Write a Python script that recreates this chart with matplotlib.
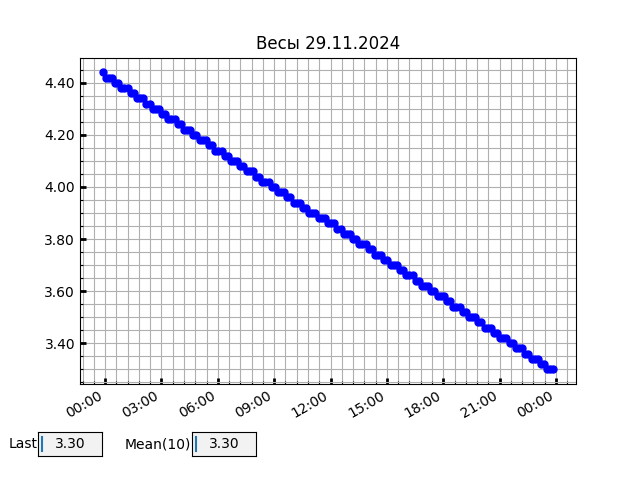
# plot.py
# Scale log for one day, with the two readout boxes under the chart.

import matplotlib
matplotlib.use('Agg')
import matplotlib.pyplot as plt
import matplotlib.dates as mdates
from matplotlib.ticker import MultipleLocator, AutoMinorLocator, FormatStrFormatter
from matplotlib.widgets import TextBox
import pandas as pd

title = 'Весы 29.11.2024'
start_time = '2024-11-28 23:52'
step_minutes = 10

# readings, one every 10 minutes
weights = [
    4.44,
    4.42, 4.42, 4.42, 4.40, 4.40,
    4.38, 4.38, 4.38, 4.36, 4.36,
    4.34, 4.34, 4.34, 4.32, 4.32,
    4.30, 4.30, 4.30, 4.28, 4.28,
    4.26, 4.26, 4.26, 4.24, 4.24,
    4.22, 4.22, 4.22, 4.20, 4.20,
    4.18, 4.18, 4.18, 4.16, 4.16,
    4.14, 4.14, 4.14, 4.12, 4.12,
    4.10, 4.10, 4.10, 4.08, 4.08,
    4.06, 4.06, 4.06, 4.04, 4.04,
    4.02, 4.02, 4.02, 4.00, 4.00,
    3.98, 3.98, 3.98, 3.96, 3.96,
    3.94, 3.94, 3.94, 3.92, 3.92,
    3.90, 3.90, 3.90, 3.88, 3.88, 3.88,
    3.86, 3.86, 3.86, 3.84, 3.84,
    3.82, 3.82, 3.82, 3.80, 3.80,
    3.78, 3.78, 3.78, 3.76, 3.76,
    3.74, 3.74, 3.74, 3.72, 3.72,
    3.70, 3.70, 3.70, 3.68, 3.68,
    3.66, 3.66, 3.66, 3.64, 3.64,
    3.62, 3.62, 3.62, 3.60, 3.60,
    3.58, 3.58, 3.58, 3.56, 3.56,
    3.54, 3.54, 3.54, 3.52, 3.52,
    3.50, 3.50, 3.50, 3.48, 3.48,
    3.46, 3.46, 3.46, 3.44, 3.44,
    3.42, 3.42, 3.42, 3.40, 3.40,
    3.38, 3.38, 3.38, 3.36, 3.36,
    3.34, 3.34, 3.34, 3.32, 3.32,
    3.30, 3.30, 3.30,
]

last_value = '3.30'
mean_value = '3.30'

times = pd.date_range(start_time, periods=len(weights), freq=f'{step_minutes}min')

fig, ax = plt.subplots(figsize=(6.4, 4.8), dpi=100)
ax.plot(times, weights, 'bo', markersize=5)
ax.set_title(title)

ax.xaxis.set_major_locator(mdates.HourLocator(byhour=range(0, 24, 3)))
ax.xaxis.set_major_formatter(mdates.DateFormatter('%H:%M'))
ax.xaxis.set_minor_locator(AutoMinorLocator(5))
ax.yaxis.set_major_locator(MultipleLocator(0.2))
ax.yaxis.set_minor_locator(MultipleLocator(0.05))
ax.yaxis.set_major_formatter(FormatStrFormatter('%.2f'))

ax.grid(which='both', color='#b0b0b0', linewidth=0.8)
ax.tick_params(which='major', direction='in', length=4, width=2)
ax.tick_params(which='minor', direction='in', length=2, width=0.8)
fig.autofmt_xdate()

# readout boxes
ax_last = fig.add_axes([0.06, 0.05, 0.1, 0.05])
tb_last = TextBox(ax_last, 'Last', initial=last_value, textalignment='center')
ax_last.axvline(0.055, 0.2, 0.8, color='C0', linewidth=1.5)

ax_mean = fig.add_axes([0.3, 0.05, 0.1, 0.05])
tb_mean = TextBox(ax_mean, 'Mean(10)', initial=mean_value, textalignment='center')
ax_mean.axvline(0.055, 0.2, 0.8, color='C0', linewidth=1.5)

fig.savefig('out.png')
